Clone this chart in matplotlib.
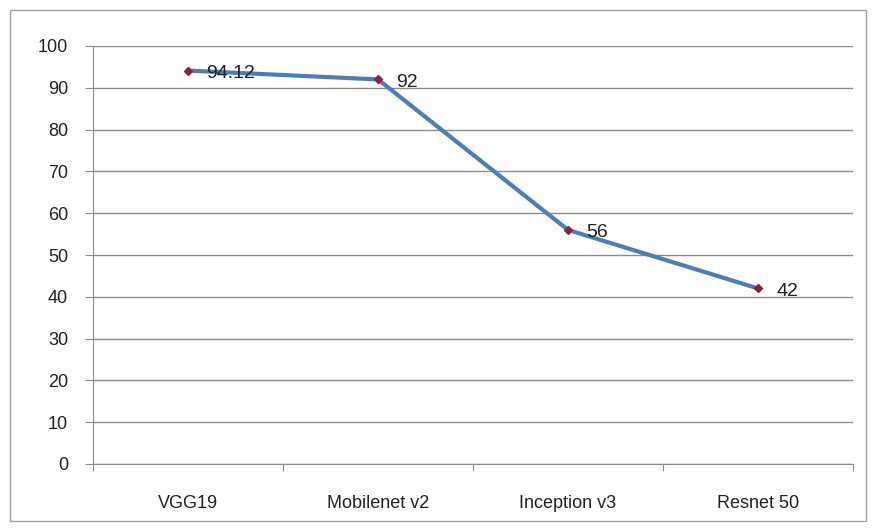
import matplotlib
matplotlib.use("Agg")
import matplotlib.pyplot as plt
from matplotlib.patches import Rectangle

categories = ["VGG19", "Mobilenet v2", "Inception v3", "Resnet 50"]
values = [94.12, 92, 56, 42]
value_labels = ["94.12", "92", "56", "42"]
yticks = [0, 10, 20, 30, 40, 50, 60, 70, 80, 90, 100]

plt.rcParams['font.family'] = ['Liberation Sans', 'DejaVu Sans']

fig = plt.figure(figsize=(8.72, 5.29), dpi=100)
fig.patch.set_facecolor('white')
fig.patches.append(Rectangle((10/872, 1-521/529), 856/872, 511/529, transform=fig.transFigure,
                             fill=False, edgecolor='#a0a0a0', linewidth=1.0))

ax = fig.add_axes([93/872, 1-464/529, 760/872, 418/529])
x = list(range(len(categories)))
ax.plot(x, values, color='#4A7EBB', linewidth=3, zorder=3)
ax.plot(x, values, linestyle='none', marker='D', markersize=4, color='#8E1F3F', zorder=4)
for xi, v, lab in zip(x, values, value_labels):
    ax.annotate(lab, (xi, v), xytext=(13, -2), textcoords='offset points',
                ha='left', va='center', fontsize=14, color='#222222', zorder=5)

ax.set_xlim(-0.5, 3.5)
ax.set_ylim(0, 100)
ax.set_yticks(yticks)
ax.set_yticklabels([str(t) for t in yticks], fontsize=13, color='#222222')
ax.yaxis.grid(True, color='#8c8c8c', linewidth=1)
ax.set_axisbelow(True)

ax.set_xticks([i + 0.5 for i in range(-1, len(categories))])
ax.set_xticklabels([])
ax.set_xticks(x, minor=True)
ax.set_xticklabels(categories, minor=True, fontsize=13, color='#222222')
ax.tick_params(axis='x', which='minor', length=0, pad=22)
ax.tick_params(axis='x', which='major', length=5, direction='out', color='#8c8c8c')
ax.tick_params(axis='y', length=6, direction='out', color='#8c8c8c', pad=12)

for s in ['top', 'right']:
    ax.spines[s].set_visible(False)
for s in ['left', 'bottom']:
    ax.spines[s].set_color('#8c8c8c')

fig.savefig('out.png', dpi=100)
